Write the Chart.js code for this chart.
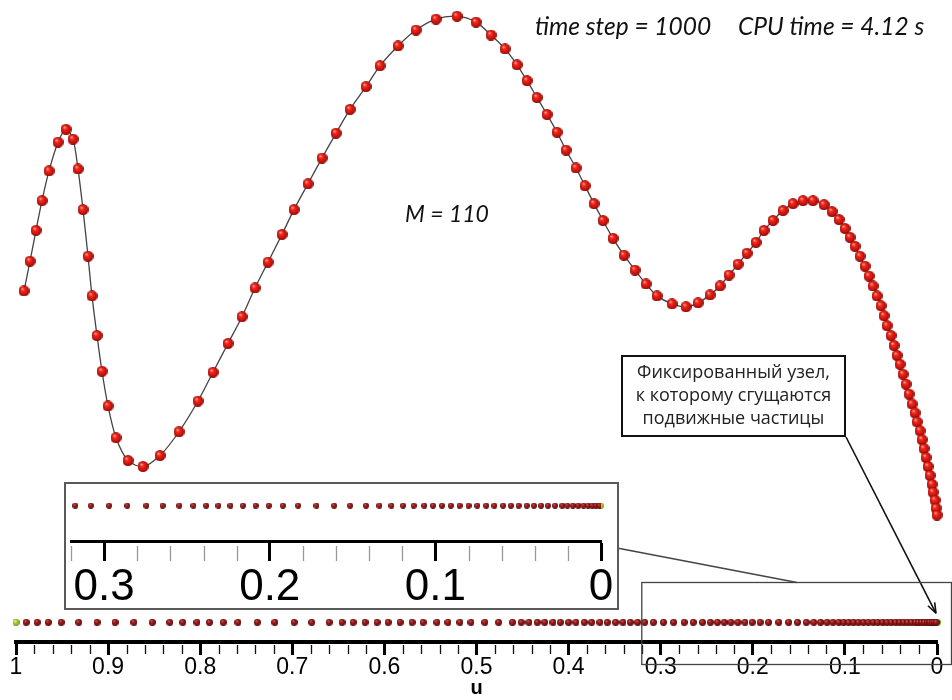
<!DOCTYPE html>
<html>
<head>
<meta charset="utf-8">
<script src="https://cdn.jsdelivr.net/npm/chart.js@4.4.1/dist/chart.umd.min.js"></script>
<style>
  html, body { margin: 0; padding: 0; background: #fff; }
  #stage { position: relative; width: 952px; height: 700px; overflow: hidden; }
  #main { position: absolute; left: 0; top: 0; }
  #zoomBox { position: absolute; left: 64px; top: 482px; width: 551px; height: 124px;
             border: 2px solid #5a5a5a; background: #fff; }
  #zoom { display: block; }
</style>
</head>
<body>
<div id="stage">
  <canvas id="main" width="952" height="700"></canvas>
  <div id="zoomBox"><canvas id="zoom" width="551" height="124"></canvas></div>
</div>
<script>
// Particle positions along the curve (plane coordinates)
const curveX = [0.08, 0.14, 0.20, 0.26, 0.33, 0.42, 0.50, 0.57, 0.62, 0.67,
                0.72, 0.76, 0.81, 0.86, 0.92, 1.00, 1.12, 1.27, 1.44, 1.63,
                1.82, 1.97, 2.12, 2.26, 2.39, 2.52, 2.66, 2.78, 2.92, 3.06,
                3.20, 3.34, 3.50, 3.64, 3.82, 4.00, 4.20, 4.41, 4.60, 4.75,
                4.89, 5.01, 5.11, 5.21, 5.31, 5.41, 5.50, 5.60, 5.69, 5.78,
                5.87, 5.97, 6.08, 6.19, 6.30, 6.41, 6.56, 6.70, 6.82, 6.94,
                7.04, 7.13, 7.22, 7.31, 7.40, 7.48, 7.57, 7.67, 7.77, 7.87,
                7.97, 8.08, 8.16, 8.23, 8.29, 8.34, 8.39, 8.44, 8.49, 8.53,
                8.57, 8.61, 8.65, 8.68, 8.71, 8.75, 8.78, 8.81, 8.84, 8.87,
                8.90, 8.93, 8.96, 8.99, 9.01, 9.04, 9.06, 9.08, 9.10, 9.12,
                9.14, 9.16, 9.17, 9.19, 9.20, 9.21, 9.22, 9.22, 9.23, 9.24];
const curveY = [3.54, 3.84, 4.15, 4.45, 4.75, 5.04, 5.17, 5.07, 4.77, 4.36,
                3.89, 3.49, 3.09, 2.73, 2.38, 2.06, 1.83, 1.77, 1.88, 2.12,
                2.43, 2.72, 3.01, 3.28, 3.57, 3.83, 4.11, 4.36, 4.62, 4.88,
                5.13, 5.37, 5.60, 5.81, 6.01, 6.17, 6.28, 6.31, 6.25, 6.12,
                5.98, 5.82, 5.66, 5.49, 5.32, 5.14, 4.96, 4.78, 4.60, 4.42,
                4.25, 4.07, 3.90, 3.75, 3.61, 3.49, 3.41, 3.38, 3.42, 3.50,
                3.59, 3.70, 3.81, 3.92, 4.03, 4.15, 4.25, 4.35, 4.42, 4.45,
                4.45, 4.41, 4.34, 4.26, 4.17, 4.08, 3.99, 3.89, 3.79, 3.69,
                3.59, 3.49, 3.39, 3.29, 3.19, 3.09, 2.99, 2.89, 2.80, 2.70,
                2.60, 2.50, 2.40, 2.31, 2.22, 2.13, 2.04, 1.95, 1.86, 1.77,
                1.68, 1.59, 1.51, 1.43, 1.35, 1.28, 1.21, 1.14, 1.07, 1.00];

// Parameter values u of the mobile particles
const stripU = [0.989, 0.977, 0.965, 0.951, 0.932, 0.912, 0.8925, 0.872, 0.852, 0.833,
                0.819, 0.8035, 0.790, 0.775, 0.759, 0.738, 0.719, 0.698, 0.679, 0.660,
                0.646, 0.634, 0.621, 0.608, 0.596, 0.583, 0.570, 0.558, 0.543, 0.531,
                0.518, 0.506, 0.491, 0.476, 0.461, 0.4515, 0.443, 0.434, 0.426, 0.417,
                0.409, 0.400, 0.392, 0.383, 0.375, 0.366, 0.358, 0.349, 0.341, 0.333,
                0.325, 0.3174, 0.308, 0.297, 0.286, 0.2745, 0.2647, 0.2546, 0.2461, 0.2384,
                0.231, 0.2237, 0.2162, 0.2085, 0.2006, 0.1921, 0.1829, 0.1718, 0.1611, 0.1515,
                0.1419, 0.1338, 0.1265, 0.1195, 0.1131, 0.1067, 0.1014, 0.096, 0.0907, 0.0854,
                0.080, 0.0747, 0.0693, 0.0644, 0.0591, 0.0544, 0.0497, 0.0448, 0.0405, 0.0362,
                0.032, 0.0277, 0.0234, 0.0203, 0.017, 0.0138, 0.0106, 0.0078, 0.0053, 0.0032,
                0.001];
// Fixed end nodes
const fixedU = [1, 0];
const fixedZoomU = [0];

// Axis ticks
const mainTickStep = 0.1;
const minorTickStep = 0.02;
const zoomRange = [0, 0.32];

const infoText = ['time step = 1000', 'CPU time = 4.12 s'];
const countText = 'M = 110';
const noteLines = ['Фиксированный узел,', 'к которому сгущаются', 'подвижные частицы'];

const AXISFONT = '"Liberation Sans", Arial, sans-serif';
const fmtTick = v => String(+v.toFixed(1));

function sphere(d, stops) {
  const c = document.createElement('canvas');
  c.width = c.height = d;
  const g = c.getContext('2d');
  const r = d / 2;
  const grad = g.createRadialGradient(r * 0.7, r * 0.6, r * 0.05, r, r, r);
  stops.forEach(([o, col]) => grad.addColorStop(o, col));
  g.fillStyle = grad;
  g.beginPath(); g.arc(r, r, r, 0, Math.PI * 2); g.fill();
  return c;
}
const redBall = sphere(11, [[0, '#ffb0a4'], [0.3, '#f2281c'], [0.75, '#c8120c'], [1, '#7a0604']]);
const darkBall = sphere(7, [[0, '#d06060'], [0.4, '#9e1c1c'], [1, '#5a0808']]);
const greenBall = sphere(7, [[0, '#eaff98'], [0.5, '#a0d030'], [1, '#6a9a10']]);
const darkBallSm = sphere(6, [[0, '#d06060'], [0.4, '#9e1c1c'], [1, '#5a0808']]);
const greenBallSm = sphere(6, [[0, '#eaff98'], [0.5, '#a0d030'], [1, '#6a9a10']]);

// Short intermediate ticks between labelled ones
const minorTicks = {
  id: 'minorTicks',
  afterDraw(chart, args, o) {
    const s = chart.scales[o.axis];
    const ctx = chart.ctx;
    ctx.save();
    ctx.strokeStyle = o.color;
    ctx.lineWidth = o.width;
    const n = Math.round((s.max - s.min) / o.step);
    for (let k = 0; k <= n; k++) {
      const v = s.min + k * o.step;
      const q = v / mainTickStep;
      if (Math.abs(q - Math.round(q)) < 1e-6) continue;
      const x = Math.round(s.getPixelForValue(v)) + 0.5;
      ctx.beginPath();
      ctx.moveTo(x, s.top + o.offset);
      ctx.lineTo(x, s.top + o.offset + o.len);
      ctx.stroke();
    }
    ctx.restore();
  }
};

// Captions, callout and zoom frame
const decor = {
  id: 'decor',
  afterDraw(chart) {
    const ctx = chart.ctx;
    const u = chart.scales.u;
    const sy = chart.scales.sy;
    ctx.save();
    ctx.fillStyle = '#111';
    ctx.textBaseline = 'alphabetic';
    ctx.font = 'italic 24.5px Lato, "Open Sans", sans-serif';
    ctx.fillText(infoText[0], 535, 35);
    ctx.fillText(infoText[1], 738, 35);
    ctx.font = 'italic 23px Lato, "Open Sans", sans-serif';
    ctx.fillText(countText, 405, 222);

    // callout box
    const bx = 622, by = 356, bw = 223, bh = 80;
    ctx.fillStyle = '#fff';
    ctx.fillRect(bx, by, bw, bh);
    ctx.strokeStyle = '#111';
    ctx.lineWidth = 2;
    ctx.strokeRect(bx, by, bw, bh);
    ctx.fillStyle = '#222';
    ctx.font = '18px "Open Sans", "Noto Sans", sans-serif';
    ctx.textAlign = 'center';
    ctx.textBaseline = 'middle';
    noteLines.forEach((t, i) => ctx.fillText(t, bx + bw / 2, by + 17 + i * 23));

    // arrow to the fixed node at u = 0
    const tx = u.getPixelForValue(0) - 1, ty = sy.getPixelForValue(0) - 9;
    const sx = bx + bw + 1, s0 = by + bh + 1;
    ctx.strokeStyle = '#111';
    ctx.lineWidth = 1.6;
    ctx.beginPath(); ctx.moveTo(sx, s0); ctx.lineTo(tx, ty); ctx.stroke();
    const a = Math.atan2(ty - s0, tx - sx);
    ctx.beginPath();
    ctx.moveTo(tx, ty);
    ctx.lineTo(tx - 11 * Math.cos(a - 0.35), ty - 11 * Math.sin(a - 0.35));
    ctx.moveTo(tx, ty);
    ctx.lineTo(tx - 11 * Math.cos(a + 0.35), ty - 11 * Math.sin(a + 0.35));
    ctx.stroke();

    // frame of the magnified interval on the main axis
    const fx = u.getPixelForValue(zoomRange[1]) - 1;
    ctx.strokeStyle = '#444';
    ctx.lineWidth = 1.3;
    ctx.strokeRect(fx + 0.5, 582.5, 951 - fx, 82);
    ctx.beginPath(); ctx.moveTo(617, 548); ctx.lineTo(797, 582.5); ctx.stroke();
    ctx.restore();
  }
};

new Chart(document.getElementById('main'), {
  type: 'line',
  data: {
    datasets: [
      { data: curveX.map((x, i) => ({ x, y: curveY[i] })), xAxisID: 'cx', yAxisID: 'cy',
        borderColor: '#444', borderWidth: 1.3, tension: 0.3, pointStyle: redBall, clip: false },
      { data: stripU.map(v => ({ x: v, y: 0 })), xAxisID: 'u', yAxisID: 'sy', showLine: false,
        pointStyle: darkBall, clip: false },
      { data: fixedU.map(v => ({ x: v, y: 0 })), xAxisID: 'u', yAxisID: 'sy', showLine: false,
        pointStyle: greenBall, clip: false }
    ]
  },
  options: {
    responsive: false, animation: false, devicePixelRatio: 1, events: [],
    layout: { padding: { left: 16, right: 15, top: 0, bottom: 0 } },
    plugins: {
      legend: { display: false }, tooltip: { enabled: false },
      minorTicks: { axis: 'u', step: minorTickStep, len: 9, width: 1.3, color: '#111', offset: 3 }
    },
    scales: {
      u: {
        axis: 'x', type: 'linear', position: 'bottom', reverse: true, min: 0, max: 1,
        afterFit(s) { s.height = 58; },
        ticks: { stepSize: mainTickStep, includeBounds: false, autoSkip: false, maxRotation: 0,
                 color: '#000', padding: -1, font: { family: AXISFONT, size: 23 }, callback: fmtTick },
        grid: { drawOnChartArea: false, drawTicks: true, tickLength: 13, tickWidth: 3, tickColor: '#000' },
        border: { display: true, color: '#000', width: 4 },
        title: { display: true, text: 'u', color: '#000', padding: { top: 0, bottom: 0 },
                 font: { family: AXISFONT, size: 20, weight: 'bold' } }
      },
      cx: { axis: 'x', type: 'linear', position: 'bottom', display: false, min: 0, max: 9.21 },
      cy: { axis: 'y', type: 'linear', position: 'left', display: false, min: 0, max: 6.42 },
      sy: { axis: 'y', type: 'linear', position: 'left', display: false, min: -0.031, max: 0.969 }
    }
  },
  plugins: [minorTicks, decor]
});

new Chart(document.getElementById('zoom'), {
  type: 'scatter',
  data: {
    datasets: [
      { data: stripU.map(v => ({ x: v, y: 0 })), pointStyle: darkBallSm },
      { data: fixedZoomU.map(v => ({ x: v, y: 0 })), pointStyle: greenBallSm, clip: false }
    ]
  },
  options: {
    responsive: false, animation: false, devicePixelRatio: 1, events: [],
    layout: { padding: { left: 0, right: 16, top: 0, bottom: 0 } },
    plugins: {
      legend: { display: false }, tooltip: { enabled: false },
      minorTicks: { axis: 'x', step: minorTickStep, len: 15, width: 1.3, color: '#999', offset: 5 }
    },
    scales: {
      x: {
        type: 'linear', reverse: true, min: zoomRange[0], max: zoomRange[1],
        afterFit(s) { s.height = 67; },
        ticks: { stepSize: mainTickStep, includeBounds: false, autoSkip: false, maxRotation: 0,
                 color: '#000', padding: 0, font: { family: AXISFONT, size: 44 }, callback: fmtTick },
        grid: { drawOnChartArea: false, drawTicks: true, tickLength: 20, tickWidth: 3, tickColor: '#000' },
        border: { display: true, color: '#000', width: 3 }
      },
      y: { display: false, min: -0.68, max: 0.32 }
    }
  },
  plugins: [minorTicks]
});
</script>
</body>
</html>
